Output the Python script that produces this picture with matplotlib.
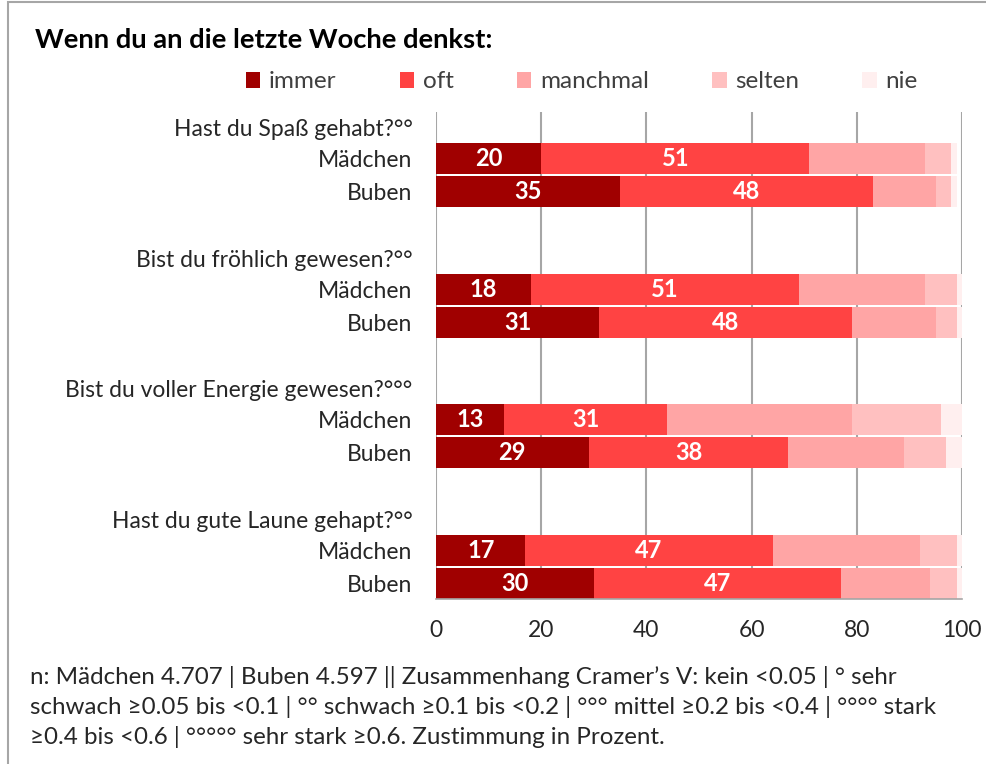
import matplotlib
matplotlib.use("Agg")
import matplotlib.pyplot as plt
from matplotlib.patches import Rectangle

plt.rcParams['font.family'] = ['Lato', 'DejaVu Sans']

questions = ["Hast du Spaß gehabt?°°", "Bist du fröhlich gewesen?°°",
             "Bist du voller Energie gewesen?°°°", "Hast du gute Laune gehapt?°°"]
groups = ["Mädchen", "Buben"]
categories = ["immer", "oft", "manchmal", "selten", "nie"]
colors = ["#A00000", "#FF4343", "#FFA5A5", "#FFC0C0", "#FFEFEF"]

# values per question: [Mädchen, Buben], each [immer, oft, manchmal, selten, nie]
immer    = [20, 35, 18, 31, 13, 29, 17, 30]
oft      = [51, 48, 51, 48, 31, 38, 47, 47]
manchmal = [22, 12, 24, 16, 35, 22, 28, 17]
selten   = [5, 3, 6, 4, 17, 8, 7, 5]
nie      = [1, 1, 1, 1, 4, 3, 1, 1]
series = [immer, oft, manchmal, selten, nie]
labeled = {"immer", "oft"}

footnote = ("n: Mädchen 4.707 | Buben 4.597 || Zusammenhang Cramer’s V: kein <0.05 | ° sehr\n"
            "schwach ≥0.05 bis <0.1 | °° schwach ≥0.1 bis <0.2 | °°° mittel ≥0.2 bis <0.4 | °°°° stark\n"
            "≥0.4 bis <0.6 | °°°°° sehr stark ≥0.6. Zustimmung in Prozent.")

fig = plt.figure(figsize=(9.86, 7.64), dpi=100)
ax = fig.add_axes([436/986, 1-599/764, (962-436)/986, (599-112)/764])

# positions: slot 0 question label, then Mädchen, Buben, blank slot
ypos = []
ticks = []
ticklabels = []
for qi, q in enumerate(questions):
    base = qi * 4.0
    ticks += [base, base + 0.94, base + 1.96]
    ticklabels += [q, groups[0], groups[1]]
    ypos += [base + 0.94, base + 1.96]

left = [0] * len(ypos)
handles = []
for cat, vals, col in zip(categories, series, colors):
    b = ax.barh(ypos, vals, left=left, height=0.95, color=col, label=cat, zorder=2)
    handles.append(b)
    if cat in labeled:
        for rect, v in zip(b, vals):
            ax.text(rect.get_x() + rect.get_width() / 2, rect.get_y() + rect.get_height() / 2,
                    f"{v}", ha="center", va="center", color="white",
                    fontsize=17, fontweight="bold", zorder=3)
    left = [l + v for l, v in zip(left, vals)]

ax.set_xlim(0, 100)
ax.set_ylim(ypos[-1] + 0.48, -0.49)
ax.set_xticks([0, 20, 40, 60, 80, 100])
ax.set_yticks(ticks)
ax.set_yticklabels(ticklabels)
ax.tick_params(axis="y", length=0, pad=17, labelsize=16.5, labelcolor="#262626")
ax.tick_params(axis="x", length=0, pad=15, labelsize=16.5, labelcolor="#262626")
ax.grid(axis="x", color="#A6A6A6", linewidth=1.5, zorder=0)
ax.set_axisbelow(True)
for s in ["top", "right", "left"]:
    ax.spines[s].set_visible(False)
ax.spines["bottom"].set_color("#A6A6A6")
ax.spines["bottom"].set_linewidth(1.2)

fig.text(35/986, 1-40/764, "Wenn du an die letzte Woche denkst:", fontsize=19.7,
         fontweight="bold", ha="left", va="center", color="black")

fig.legend(handles=handles, labels=categories, loc="center", bbox_to_anchor=(0.59, 1-82/764),
           ncol=5, frameon=False, handlelength=0.6, handleheight=0.6, handletextpad=0.35,
           columnspacing=2.6, fontsize=17.5, labelcolor="#404040")

fig.text(30/986, 1-707/764, footnote, fontsize=17.4, ha="left", va="center",
         color="#262626", linespacing=1.47)

fig.patches.append(Rectangle((8/986, -0.05), 1.0, 1.05 - 2/764, transform=fig.transFigure,
                             fill=False, edgecolor="#A6A6A6", linewidth=1.5))

fig.savefig("out.png", dpi=100)
